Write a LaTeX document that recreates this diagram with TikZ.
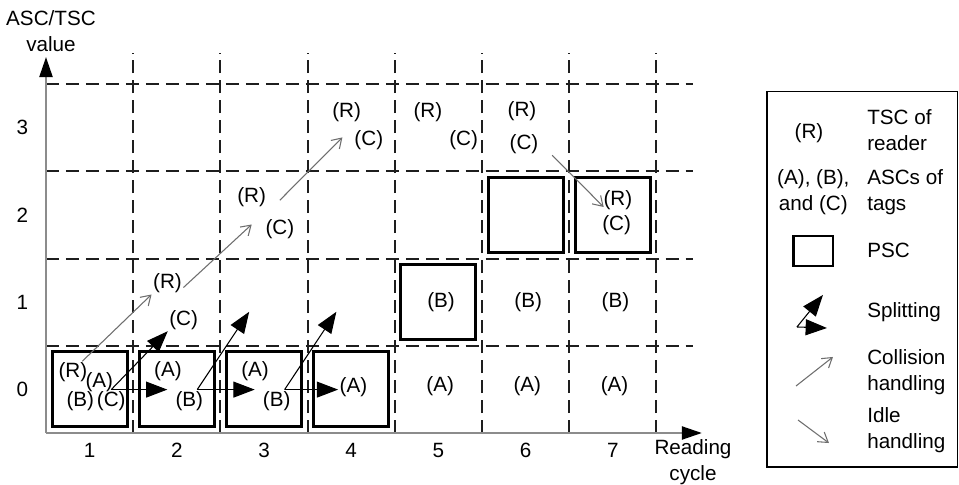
\documentclass[tikz,border=0pt]{standalone}
\usepackage{fontspec}
\setmainfont{Liberation Sans}
\usetikzlibrary{calc,arrows.meta}
\definecolor{gridgray}{HTML}{1E1E1E}
\definecolor{axisgray}{HTML}{8C8C8C}
\definecolor{handgray}{HTML}{6E6E6E}
\newcommand{\pscbox}[2]{\draw[line width=2.2pt] (#1+0.07,#2+0.07) rectangle (#1+0.93,#2+0.93);}

\begin{document}
\begin{tikzpicture}[x=2.3cm,y=2.3cm,
  every node/.style={font=\fontsize{15.5}{19.5}\selectfont,inner sep=1pt},
  gridline/.style={gridgray,line width=1.4pt,dash pattern=on 10pt off 5pt},
  axis/.style={axisgray,line width=1.1pt,-{Triangle[length=15pt,width=10pt,color=black]}},
  splitarrow/.style={black,line width=0.8pt,-{Triangle[length=16pt,width=12pt]}},
  handle/.style={handgray,line width=0.8pt,-{Straight Barb[length=7pt,width=9pt]}}]
\useasboundingbox (-0.5275,-0.5963) rectangle (10.4702,4.9656);
% grid and axes
\foreach \i in {1,...,7} \draw[gridline] (\i,0)--(\i,4.36);
\foreach \j in {1,...,4} \draw[gridline] (0,\j)--(7.42,\j);
\draw[axis] (0,0)--(0,4.31);
\draw[axis] (0,0)--(7.52,0);
\foreach \i in {1,...,7} \node (x\i) at (\i-0.5,-0.195){\i};
\foreach \j in {0,...,3} \node (y\j) at (-0.27,\j+0.5){\j};
\node[align=center] (ylab) at (0.057,4.61){ASC/TSC\\value};
\node[align=center] (xlab) at (7.42,-0.333){Reading\\cycle};
% PSCs
\pscbox{0}{0}\pscbox{1}{0}\pscbox{2}{0}\pscbox{3}{0}
\pscbox{4}{1}\pscbox{5}{2}\pscbox{6}{2}
% counters
\node (r1) at (0.308,0.694){(R)};
\node (a1) at (0.611,0.588){(A)};
\node (b1) at (0.394,0.369){(B)};
\node (c1) at (0.748,0.369){(C)};
\node (a2) at (1.399,0.713){(A)};
\node (b2) at (1.644,0.369){(B)};
\node (c2) at (1.579,1.296){(C)};
\node (r2) at (1.393,1.717){(R)};
\node (a3) at (2.397,0.713){(A)};
\node (b3) at (2.646,0.369){(B)};
\node (r3) at (2.359,2.70){(R)};
\node (c3) at (2.683,2.34){(C)};
\node (a4) at (3.526,0.531){(A)};
\node (r4) at (3.448,3.685){(R)};
\node (c4) at (3.702,3.36){(C)};
\node (r5) at (4.379,3.685){(R)};
\node (c5) at (4.79,3.36){(C)};
\node (r6) at (5.459,3.695){(R)};
\node (c6) at (5.482,3.314){(C)};
\node (r7) at (6.558,2.672){(R)};
\node (c7) at (6.544,2.385){(C)};
\foreach \i in {5,6,7} {\node (b\i) at (\i-0.47,1.506){(B)}; \node (a\i) at (\i-0.48,0.542){(A)};}
% splitting
\coordinate (up2) at (2.33,1.39);
\coordinate (up3) at (3.33,1.39);
\draw[splitarrow] (c1.north)--(c2.south west);
\draw[splitarrow,shorten >=5pt] (c1.north)--(c1.north -| b2.west);
\draw[splitarrow] (b2.55)--(up2);
\draw[splitarrow,shorten >=5pt] (b2.55)--(b2.55 -| b3.west);
\draw[splitarrow] (b3.55)--(up3);
\draw[splitarrow] (b3.55)--(b3.55 -| a4.west);
% collision and idle handling
\draw[handle] (r1.50)--(r2.south west);
\draw[handle] (r2.-15)--($(r3.south)+(0,-0.18)$);
\draw[handle] ($(r3.east)+(0.14,-0.03)$)--($(c4.west)+(-0.12,0.03)$);
\draw[handle] ($(c6.south east)+(0.14,0)$)--($(r7.west)+(0.02,-0.08)$);
% legend
\draw[line width=0.8pt] (8.268,-0.39) rectangle (10.453,3.911);
\node (legr) at (8.75,3.44){(R)};
\node[anchor=west,align=left] (legtsc) at (9.40,3.475){TSC of\\reader};
\node[align=center] (legabc) at (8.80,2.758){(A), (B),\\and (C)};
\node[anchor=west,align=left] (legasc) at (9.40,2.764){ASCs of\\tags};
\draw[line width=2.2pt] (8.567,1.915) rectangle (9.025,2.259);
\node[anchor=west] (legpsc) at (9.40,2.099){PSC};
\coordinate (sp0) at (8.612,1.216);
\coordinate (sp1) at (8.91,1.583);
\coordinate (sp2) at (8.956,1.204);
\draw[splitarrow] (sp0)--(sp1);
\draw[splitarrow] (sp0)--(sp2);
\node[anchor=west] (legsplit) at (9.40,1.388){Splitting};
\coordinate (co0) at (8.601,0.539);
\coordinate (co1) at (9.025,0.872);
\draw[handle] (co0)--(co1);
\node[anchor=west,align=left] (legcoll) at (9.40,0.70){Collision\\handling};
\coordinate (id0) at (8.624,0.149);
\coordinate (id1) at (8.979,-0.115);
\draw[handle] (id0)--(id1);
\node[anchor=west,align=left] (legidle) at (9.40,0.034){Idle\\handling};
\end{tikzpicture}
\end{document}
